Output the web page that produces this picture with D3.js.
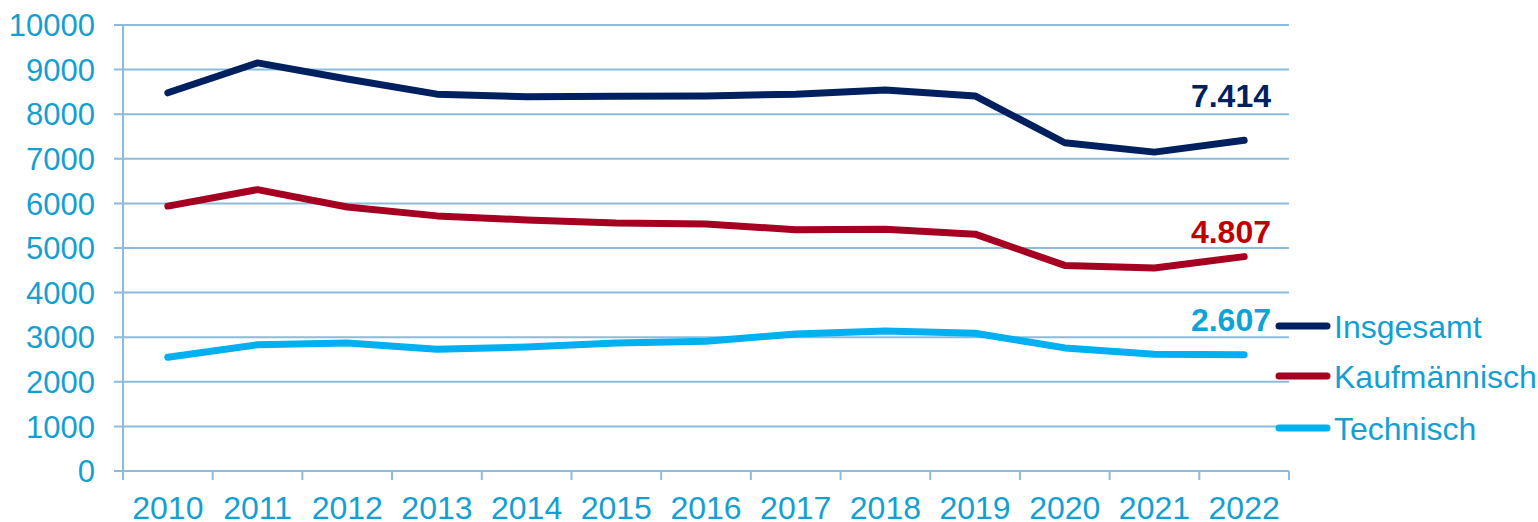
<!DOCTYPE html>
<html lang="de">
<head>
    <meta charset="UTF-8">
    <title>Ausbildung</title>
    <script src="https://d3js.org/d3.v7.min.js"></script>
    <style>
        body { margin: 0; background: #fff; }
        text { font-family: "Liberation Sans", Arial, sans-serif; }
    </style>
</head>
<body>
<script>
    // Daten
    var years = ['2010','2011','2012','2013','2014','2015','2016','2017','2018','2019','2020','2021','2022'];
    var insgesamt = [8480, 9150, 8790, 8450, 8390, 8405, 8410, 8450, 8540, 8410, 7360, 7150, 7414];
    var kaufm = [5940, 6310, 5920, 5720, 5630, 5560, 5540, 5410, 5420, 5310, 4610, 4550, 4807];
    var technisch = [2550, 2830, 2870, 2730, 2780, 2870, 2910, 3070, 3140, 3090, 2760, 2620, 2607];
    var yTicks = [0, 1000, 2000, 3000, 4000, 5000, 6000, 7000, 8000, 9000, 10000];
    var seriesNames = ['Insgesamt', 'Kaufmännisch', 'Technisch'];
    var endLabels = ['7.414', '4.807', '2.607'];

    var width = 1538, height = 522;
    var plotLeft = 123, plotRight = 1289, plotTop = 25, plotBottom = 471;
    var axisColor = '#8dbbdc';
    var textColor = '#149fd3';

    var series = [
        {name: seriesNames[0], values: insgesamt, color: '#002060', labelColor: '#002060', label: endLabels[0], dy: -33},
        {name: seriesNames[1], values: kaufm, color: '#a50021', labelColor: '#c00000', label: endLabels[1], dy: -14},
        {name: seriesNames[2], values: technisch, color: '#00b0f0', labelColor: '#0ea3d6', label: endLabels[2], dy: -24}
    ];

    var svg = d3.select('body').append('svg')
        .attr('width', width)
        .attr('height', height);

    var x = d3.scaleBand().domain(years).range([plotLeft, plotRight]);
    var y = d3.scaleLinear().domain([0, 10000]).range([plotBottom, plotTop]);

    // Gitterlinien
    svg.append('g').selectAll('line')
        .data(yTicks)
        .enter().append('line')
        .attr('x1', plotLeft - 9)
        .attr('x2', plotRight)
        .attr('y1', function (d) { return y(d); })
        .attr('y2', function (d) { return y(d); })
        .attr('stroke', axisColor)
        .attr('stroke-width', 2);

    // y-Achse
    svg.append('line')
        .attr('x1', plotLeft).attr('x2', plotLeft)
        .attr('y1', plotTop).attr('y2', plotBottom + 9)
        .attr('stroke', axisColor).attr('stroke-width', 2);

    svg.append('g').selectAll('text')
        .data(yTicks)
        .enter().append('text')
        .attr('x', 95)
        .attr('y', function (d) { return y(d); })
        .attr('dy', '0.36em')
        .attr('text-anchor', 'end')
        .attr('font-size', 31)
        .attr('fill', textColor)
        .text(function (d) { return d; });

    // x-Achse
    var xaxis = d3.axisBottom(x).tickSize(0).tickPadding(0);
    var gx = svg.append('g')
        .attr('transform', 'translate(0,' + plotBottom + ')')
        .call(xaxis);
    gx.select('.domain').remove();
    gx.selectAll('text')
        .attr('y', 48)
        .attr('dy', 0)
        .attr('font-size', 32)
        .attr('font-family', '"Liberation Sans", Arial, sans-serif')
        .attr('fill', textColor);

    var bounds = years.map(function (d) { return x(d); }).concat([plotRight]);
    svg.append('g').selectAll('line')
        .data(bounds)
        .enter().append('line')
        .attr('x1', function (d) { return d; })
        .attr('x2', function (d) { return d; })
        .attr('y1', plotBottom)
        .attr('y2', plotBottom + 9)
        .attr('stroke', axisColor)
        .attr('stroke-width', 2);

    // Linien
    var line = d3.line()
        .x(function (d, i) { return x(years[i]) + x.bandwidth() / 2; })
        .y(function (d) { return y(d); });

    series.forEach(function (s) {
        svg.append('path')
            .datum(s.values)
            .attr('d', line)
            .attr('fill', 'none')
            .attr('stroke', s.color)
            .attr('stroke-width', 7)
            .attr('stroke-linecap', 'round')
            .attr('stroke-linejoin', 'round');

        var last = s.values.length - 1;
        svg.append('text')
            .attr('x', 1271)
            .attr('y', y(s.values[last]) + s.dy)
            .attr('text-anchor', 'end')
            .attr('font-size', 32)
            .attr('font-weight', 'bold')
            .attr('fill', s.labelColor)
            .text(s.label);
    });

    // Legende
    var legend = svg.append('g').selectAll('g')
        .data(series)
        .enter().append('g')
        .attr('transform', function (d, i) { return 'translate(1279,' + [326, 376, 428][i] + ')'; });

    legend.append('line')
        .attr('x1', 0).attr('x2', 48)
        .attr('y1', 0).attr('y2', 0)
        .attr('stroke', function (d) { return d.color; })
        .attr('stroke-width', 7)
        .attr('stroke-linecap', 'round');

    legend.append('text')
        .attr('x', 55)
        .attr('y', 0)
        .attr('dy', '0.36em')
        .attr('font-size', 32)
        .attr('fill', textColor)
        .text(function (d) { return d.name; });
</script>
</body>
</html>
